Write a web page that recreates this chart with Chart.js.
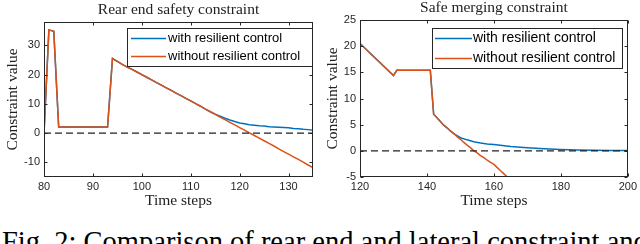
<!DOCTYPE html>
<html>
<head>
<meta charset="utf-8">
<script src="https://cdn.jsdelivr.net/npm/chart.js@4/dist/chart.umd.min.js"></script>
<style>
html, body { margin: 0; padding: 0; background: #fff; width: 640px; height: 244px; overflow: hidden; }
canvas { position: absolute; top: 0; }
#c1 { left: 0; }
#c2 { left: 320px; }
#cap { position: absolute; left: 2px; top: 228px; font: 28.5px "Liberation Serif"; line-height: 28px; white-space: nowrap; color: #000; }
</style>
</head>
<body>
<canvas id="c1" width="320" height="215"></canvas>
<canvas id="c2" width="320" height="215"></canvas>
<div id="cap">Fig. 2: Comparison of rear end and lateral constraint and</div>
<script>
// legend labels
const seriesNames = ['with resilient control', 'without resilient control'];

// rear end safety constraint (left)
const rearSteps = [80, 81, 82, 83, 84, 85, 86, 87, 88, 89, 90, 91, 92, 93, 94, 95, 96, 97, 98, 99,
  100, 101, 102, 103, 104, 105, 106, 107, 108, 109, 110, 111, 112, 113, 114, 115, 116, 117, 118, 119,
  120, 121, 122, 123, 124, 125, 126, 127, 128, 129, 130, 131, 132, 133, 134, 135];
const rearWithout = [0, 35.3, 34.8, 2.1, 2.1, 2.1, 2.1, 2.1, 2.1, 2.1, 2.1, 2.1, 2.1, 2.1, 25.5, 24.5, 23.5, 22.6, 21.8, 20.9,
  20.0, 19.1, 18.2, 17.3, 16.4, 15.5, 14.6, 13.7, 12.8, 11.9, 11.0, 10.1, 9.2, 8.2, 7.3, 6.4, 5.5, 4.6, 3.7, 2.8,
  1.9, 1.0, 0.1, -0.8, -1.7, -2.6, -3.5, -4.4, -5.4, -6.3, -7.2, -8.1, -9.0, -9.9, -10.9, -11.8];
const rearWith = [0, 35.3, 34.8, 2.1, 2.1, 2.1, 2.1, 2.1, 2.1, 2.1, 2.1, 2.1, 2.1, 2.1, 25.5, 24.5, 23.5, 22.6, 21.8, 20.9,
  20.0, 19.1, 18.2, 17.3, 16.4, 15.5, 14.6, 13.7, 12.8, 11.9, 11.0, 10.1, 9.2, 8.2, 7.3, 6.5, 5.8, 5.1, 4.5, 4.0,
  3.5, 3.2, 2.9, 2.7, 2.5, 2.4, 2.2, 2.1, 2.0, 1.9, 1.8, 1.6, 1.5, 1.3, 1.2, 1.0];
const rearXRange = [80, 135];
const rearYRange = [-15, 38];

// safe merging constraint (right)
const mergeWithoutSteps = [120, 130, 131, 141, 142, 143, 144, 145, 146, 147, 148, 149, 150, 151, 152, 153, 154,
  155, 156, 157, 158, 159, 160, 161, 162, 163, 164, 165];
const mergeWithout = [20.5, 14.4, 15.4, 15.4, 7.0, 6.3, 5.6, 4.9, 4.4, 3.8, 3.3, 2.7, 2.2, 1.6, 1.1, 0.6, 0.0,
  -0.4, -0.9, -1.3, -1.8, -2.2, -2.6, -3.2, -3.8, -4.4, -5.0, -5.6];
const mergeWithSteps = [120, 130, 131, 141, 142, 143, 144, 145, 146, 147, 148, 149, 150, 152, 154, 156, 158, 160,
  165, 170, 175, 180, 185, 190, 195, 200];
const mergeWith = [20.5, 14.4, 15.4, 15.4, 7.0, 6.3, 5.6, 4.9, 4.4, 3.8, 3.3, 2.9, 2.5, 2.1, 1.75, 1.5, 1.3, 1.2,
  0.85, 0.6, 0.4, 0.27, 0.18, 0.12, 0.08, 0.05];
const mergeXRange = [120, 200];
const mergeYRange = [-5, 25];

const blue = '#0072BD';
const orange = '#D95319';
const axisCol = '#262626';

const pts = (xs, ys) => xs.map((x, i) => ({ x: x, y: ys[i] }));

// box, inward ticks, title and legend drawn matlab style
const matlabBox = {
  id: 'matlabBox',
  afterDatasetsDraw(chart, args, o) {
    const { ctx, chartArea: a, scales: { x, y } } = chart;
    ctx.save();
    ctx.strokeStyle = axisCol;
    ctx.lineWidth = 1;
    const L = Math.round(a.left) + 0.5, R = Math.round(a.right) - 0.5;
    const T = Math.round(a.top) + 0.5, B = Math.round(a.bottom) - 0.5;
    ctx.strokeRect(L, T, R - L, B - T);
    ctx.beginPath();
    x.ticks.forEach(t => {
      const p = Math.round(x.getPixelForValue(t.value)) + 0.5;
      ctx.moveTo(p, B); ctx.lineTo(p, B - 3);
      ctx.moveTo(p, T); ctx.lineTo(p, T + 3);
    });
    y.ticks.forEach(t => {
      const p = Math.round(y.getPixelForValue(t.value)) + 0.5;
      ctx.moveTo(L, p); ctx.lineTo(L + 3, p);
      ctx.moveTo(R, p); ctx.lineTo(R - 3, p);
    });
    ctx.stroke();

    // title
    ctx.fillStyle = '#222';
    ctx.font = '15.5px "Liberation Serif"';
    ctx.textAlign = 'center';
    ctx.textBaseline = 'alphabetic';
    ctx.fillText(o.title, (a.left + a.right) / 2, o.titleY);

    // legend
    const lg = o.legend;
    ctx.fillStyle = '#fff';
    ctx.fillRect(lg.box[0], lg.box[1], lg.box[2], lg.box[3]);
    ctx.strokeStyle = axisCol;
    ctx.strokeRect(lg.box[0] + 0.5, lg.box[1] + 0.5, lg.box[2], lg.box[3]);
    ctx.font = lg.size + 'px "Liberation Sans"';
    ctx.textAlign = 'left';
    ctx.textBaseline = 'middle';
    [blue, orange].forEach((c, i) => {
      ctx.strokeStyle = c;
      ctx.lineWidth = 1.5;
      ctx.beginPath();
      ctx.moveTo(lg.line[0], lg.rows[i]);
      ctx.lineTo(lg.line[1], lg.rows[i]);
      ctx.stroke();
      ctx.fillStyle = '#000';
      ctx.fillText(seriesNames[i], lg.textX, lg.rows[i]);
    });
    ctx.restore();
  }
};

function makeChart(id, cfg) {
  const tickFont = { family: 'Liberation Sans', size: 11 };
  const serif = { family: 'Liberation Serif', size: 15.5 };
  return new Chart(document.getElementById(id), {
    type: 'line',
    data: {
      datasets: [
        { data: pts(cfg.xr, [0, 0]), borderColor: '#222', borderWidth: 1.2, borderDash: [7, 4], order: 0 },
        { label: seriesNames[1], data: cfg.without, borderColor: orange, borderWidth: 1.5, order: 1 },
        { label: seriesNames[0], data: cfg.with, borderColor: blue, borderWidth: 1.5, order: 2 }
      ]
    },
    options: {
      responsive: false,
      animation: false,
      events: [],
      elements: { point: { radius: 0 }, line: { tension: 0 } },
      layout: { padding: { left: 0, right: cfg.padRight, top: cfg.padTop, bottom: 0 } },
      plugins: { legend: { display: false }, tooltip: { enabled: false }, matlabBox: cfg.box },
      scales: {
        x: {
          type: 'linear', min: cfg.xr[0], max: cfg.xr[1],
          grid: { display: false, drawTicks: false }, border: { display: false },
          ticks: { stepSize: cfg.xStep, font: tickFont, color: axisCol, padding: 3, maxRotation: 0, includeBounds: false },
          title: { display: true, text: 'Time steps', font: serif, color: '#222', padding: { top: 0, bottom: 5 } },
          afterFit: s => { s.height = 38; }
        },
        y: {
          min: cfg.yr[0], max: cfg.yr[1],
          grid: { display: false, drawTicks: false }, border: { display: false },
          ticks: { stepSize: cfg.yStep, font: tickFont, color: axisCol, padding: 4, includeBounds: false },
          title: { display: true, text: 'Constraint value', font: serif, color: '#222', padding: { top: 4, bottom: 0 } },
          afterFit: s => { s.width = cfg.yWidth; }
        }
      }
    },
    plugins: [matlabBox]
  });
}

makeChart('c1', {
  xr: rearXRange, yr: rearYRange, xStep: 10, yStep: 10,
  without: pts(rearSteps, rearWithout), with: pts(rearSteps, rearWith),
  yWidth: 44, padRight: 7, padTop: 22,
  box: { title: 'Rear end safety constraint', titleY: 14,
    legend: { box: [127, 28, 185, 38], line: [131, 166], textX: 168, rows: [38.5, 56.5], size: 13 } }
});

makeChart('c2', {
  xr: mergeXRange, yr: mergeYRange, xStep: 20, yStep: 5,
  without: pts(mergeWithoutSteps, mergeWithout), with: pts(mergeWithSteps, mergeWith),
  yWidth: 40, padRight: 10, padTop: 20,
  box: { title: 'Safe merging constraint', titleY: 12,
    legend: { box: [112, 28, 190, 40], line: [115, 152], textX: 153, rows: [38.5, 58.5], size: 14 } }
});
</script>
</body>
</html>
